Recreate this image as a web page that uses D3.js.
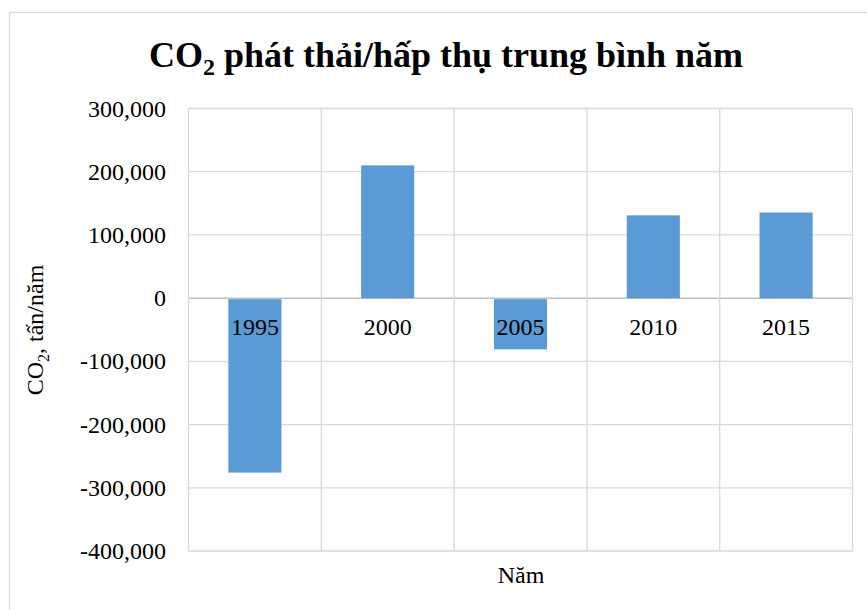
<!DOCTYPE html>
<html><head><meta charset="utf-8">
<script src="https://cdn.jsdelivr.net/npm/d3@7/dist/d3.min.js"></script>
<style>body{margin:0;background:#fff}svg{display:block}</style>
</head><body>
<svg id="c" width="867" height="610"></svg>
<script>
const categories = ["1995","2000","2005","2010","2015"];
const values = [-276000, 210000, -81000, 131000, 135500];
const yTicks = [300000,200000,100000,0,-100000,-200000,-300000,-400000];

const svg = d3.select("#c");
const font = "'Liberation Serif','Times New Roman',serif";
const M = {l:188.5, r:852.5, t:108.5, b:551};

svg.append("rect").attr("x",9.5).attr("y",12.5).attr("width",900).attr("height",700)
  .attr("fill","#fff").attr("stroke","#d9d9d9").attr("stroke-width",1.3);

const x = d3.scaleBand().domain(categories).range([M.l,M.r]).paddingInner(0).paddingOuter(0);
const y = d3.scaleLinear().domain([-400000,300000]).range([M.b,M.t]);

// grid
const g = svg.append("g");
g.selectAll("line.h").data(yTicks).join("line")
  .attr("x1",M.l).attr("x2",M.r).attr("y1",d=>y(d)).attr("y2",d=>y(d))
  .attr("stroke",d=>d===0?"#bfbfbf":"#d9d9d9").attr("stroke-width",d=>d===0?1.5:1.3);
const vlines = categories.map(c=>x(c)).concat([M.r]);
g.selectAll("line.v").data(vlines).join("line")
  .attr("x1",d=>d).attr("x2",d=>d).attr("y1",M.t).attr("y2",M.b)
  .attr("stroke","#d9d9d9").attr("stroke-width",1.3);

// bars
const bw = x.bandwidth()*0.4;
svg.append("g").selectAll("rect").data(values).join("rect")
  .attr("x",(d,i)=>x(categories[i])+x.bandwidth()/2-bw/2)
  .attr("width",bw)
  .attr("y",d=>y(Math.max(0,d))+ (d<0?1:0))
  .attr("height",d=>Math.abs(y(d)-y(0)) - (d<0?1:0))
  .attr("fill","#5b9bd5");

// y axis labels
const fmt = d => d3.format(",")(d).replace("\u2212","-");
svg.append("g").selectAll("text").data(yTicks).join("text")
  .attr("x",166).attr("y",d=>y(d)+8).attr("text-anchor","end")
  .style("font-family",font).style("font-size","24px").attr("fill","#000")
  .text(d=>fmt(d));

// category labels
svg.append("g").selectAll("text").data(categories).join("text")
  .attr("x",d=>x(d)+x.bandwidth()/2).attr("y",y(0)+37)
  .attr("text-anchor","middle")
  .style("font-family",font).style("font-size","24px").attr("fill","#000")
  .text(d=>d);

// title
const t = svg.append("text").attr("x",446).attr("y",67).attr("text-anchor","middle")
  .style("font-family",font).style("font-size","36px").style("font-weight","bold").attr("fill","#000");
t.append("tspan").text("CO");
t.append("tspan").attr("dy",8).style("font-size","24px").text("2");
t.append("tspan").attr("dy",-8).text(" phát thải/hấp thụ trung bình năm");

// y title
const yt = svg.append("text").attr("transform","translate(43,330) rotate(-90)").attr("text-anchor","middle")
  .style("font-family",font).style("font-size","24px").attr("fill","#000");
yt.append("tspan").text("CO");
yt.append("tspan").attr("dy",6).style("font-size","16px").text("2");
yt.append("tspan").attr("dy",-6).text(", tấn/năm");

// x title
svg.append("text").attr("x",521).attr("y",583).attr("text-anchor","middle")
  .style("font-family",font).style("font-size","24px").attr("fill","#000").text("Năm");
</script>
</body></html>
